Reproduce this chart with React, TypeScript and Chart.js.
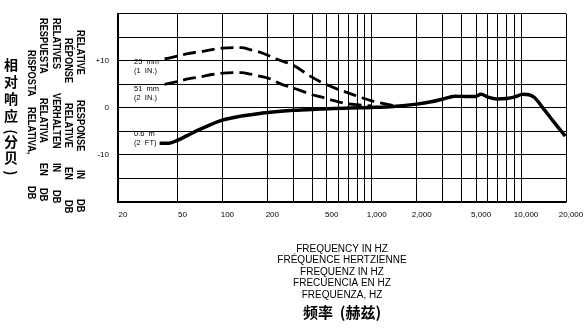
import React, { useEffect, useRef } from 'react';
import { Chart, registerables } from 'chart.js';

Chart.register(...registerables);

// ---- data ----
const freq06 = [38, 44, 50, 58, 67, 80, 100, 130, 160, 200, 300, 450, 700, 1000, 1400, 2000, 2500, 3000, 3600, 4400, 4900, 5400, 6000, 6900, 8000, 9000, 10300, 11300, 12300, 14000, 16500, 19800];
const db06 = [-7.5, -7.5, -6.9, -5.9, -4.9, -3.8, -2.6, -1.8, -1.4, -1.0, -0.5, -0.25, 0, 0.1, 0.3, 0.8, 1.3, 1.9, 2.5, 2.4, 2.4, 2.9, 2.3, 1.9, 2.0, 2.3, 2.9, 2.8, 2.2, 0.0, -2.9, -6.0];

const freq25 = [41, 50, 60, 70, 85, 100, 118, 135, 153, 180, 208, 230, 300, 385, 450, 590, 680, 800, 1000, 1400];
const db25 = [10.4, 11.0, 11.6, 11.9, 12.4, 12.7, 12.8, 12.8, 12.4, 11.8, 11.0, 10.4, 9.0, 6.8, 5.6, 4.0, 3.3, 2.5, 1.5, 0.5];

const freq51 = [41, 50, 60, 71, 85, 100, 118, 135, 153, 180, 208, 250, 300, 400, 450, 550, 680, 850, 1000];
const db51 = [5.0, 5.6, 6.2, 6.6, 7.1, 7.4, 7.5, 7.5, 7.2, 6.7, 6.2, 5.0, 4.2, 2.8, 2.4, 1.6, 0.9, 0.6, 0.4];

const xGridValues = [20, 50, 100, 200, 300, 400, 500, 600, 700, 800, 900, 1000, 2000, 3000, 4000, 5000, 6000, 7000, 8000, 9000, 10000, 20000];
const xLabelValues = [20, 50, 100, 200, 500, 1000, 2000, 5000, 10000, 20000];
const xLabelTexts = ['20', '50', '100', '200', '500', '1,000', '2,000', '5,000', '10,000', '20,000'];
const yLabelValues = [10, 0, -10];
const yLabelTexts = ['+10', '0', '-10'];

const yTitleLines = [
  'RELATIVE RESPONSE IN DB',
  'RÉPONSE RELATIVE EN DB',
  'RELATIVES VERHALTEN IN DB',
  'RESPUESTA RELATIVA EN DB',
  'RISPOSTA RELATIVA, DB',
];
const yTitleZh = ['相', '对', '响', '应', '(', '分', '贝', ')'];
const xTitleLines = [
  'FREQUENCY IN HZ',
  'FRÉQUENCE HERTZIENNE',
  'FREQUENZ IN HZ',
  'FRECUENCIA EN HZ',
  'FREQUENZA, HZ',
];
const xTitleZh = '频率  (赫兹)';
const curveLabels = [
  ['25  mm', '(1  IN.)'],
  ['51  mm', '(2  IN.)'],
  ['0.6  m', '(2  FT)'],
];

// ---- layout (text placement only) ----
const yTitleColX = [80, 68, 56, 43, 31];
const yTitleWordY = [
  [30, 100, 170, 199],
  [38, 103, 167, 200],
  [18, 93, 163, 190],
  [18, 98, 163, 188],
  [50, 107, 186],
];
const yTitleZhY = [65, 82, 99, 116, 132, 142, 158, 173];
const curveLabelPos = [
  [134, 62],
  [134, 89],
  [134, 134],
];

const textPlugin = {
  id: 'extraText',
  afterDraw(chart: any) {
    const ctx = chart.ctx as CanvasRenderingContext2D;
    const area = chart.chartArea;
    ctx.save();
    ctx.fillStyle = '#000';

    // rotated y titles
    ctx.font = 'bold 11px "Liberation Sans", Arial, sans-serif';
    ctx.textBaseline = 'middle';
    ctx.textAlign = 'left';
    yTitleLines.forEach((line, ci) => {
      const words = line.split(' ');
      words.forEach((w, wi) => {
        ctx.save();
        ctx.translate(yTitleColX[ci], yTitleWordY[ci][wi]);
        ctx.rotate(Math.PI / 2);
        ctx.scale(0.84, 1);
        ctx.fillText(w, 0, 0);
        ctx.restore();
      });
    });

    // chinese vertical title
    ctx.font = 'bold 14px "Noto Sans CJK SC", sans-serif';
    ctx.textAlign = 'center';
    ctx.textBaseline = 'middle';
    yTitleZh.forEach((ch, i) => {
      ctx.save();
      ctx.translate(11, yTitleZhY[i]);
      if (ch === '(' || ch === ')') ctx.rotate(Math.PI / 2);
      ctx.fillText(ch, 0, 0);
      ctx.restore();
    });

    // x titles
    const cx = (area.left + area.right) / 2;
    ctx.font = '10px "Liberation Sans", Arial, sans-serif';
    ctx.textAlign = 'center';
    xTitleLines.forEach((line, i) => {
      ctx.fillText(line, cx, 249 + i * 11.5);
    });
    ctx.font = 'bold 15px "Noto Sans CJK SC", sans-serif';
    ctx.fillText(xTitleZh, cx, 312);

    // curve labels
    ctx.font = '7.5px "Liberation Sans", Arial, sans-serif';
    ctx.textAlign = 'left';
    curveLabels.forEach((lines, i) => {
      lines.forEach((t, j) => {
        ctx.fillText(t, curveLabelPos[i][0], curveLabelPos[i][1] + j * 9);
      });
    });
    ctx.restore();
  },
};

function toXY(xs: number[], ys: number[]) {
  return xs.map((x, i) => ({ x, y: ys[i] }));
}

export default function App() {
  const ref = useRef<HTMLCanvasElement | null>(null);
  useEffect(() => {
    if (!ref.current) return;
    const chart = new Chart(ref.current, {
      type: 'line',
      data: {
        datasets: [
          {
            label: '0.6 m',
            data: toXY(freq06, db06),
            borderColor: '#000',
            borderWidth: 3.5,
            pointRadius: 0,
            fill: false,
            cubicInterpolationMode: 'monotone',
          },
          {
            label: '25 mm',
            data: toXY(freq25, db25),
            borderColor: '#000',
            borderWidth: 2.8,
            borderDash: [13, 6],
            pointRadius: 0,
            fill: false,
            cubicInterpolationMode: 'monotone',
          },
          {
            label: '51 mm',
            data: toXY(freq51, db51),
            borderColor: '#000',
            borderWidth: 2.8,
            borderDash: [13, 6],
            pointRadius: 0,
            fill: false,
            cubicInterpolationMode: 'monotone',
          },
        ],
      },
      options: {
        responsive: false,
        animation: false,
        devicePixelRatio: 1,
        layout: { padding: { left: 78, right: 22, top: 7, bottom: 98 } },
        plugins: { legend: { display: false }, tooltip: { enabled: false } },
        scales: {
          x: {
            type: 'logarithmic',
            min: 20,
            max: 20000,
            afterFit: (s: any) => { s.height = 30; },
            afterBuildTicks: (s: any) => { s.ticks = xGridValues.map((v) => ({ value: v })); },
            grid: { color: '#000', lineWidth: 1, drawTicks: false },
            border: { color: '#000', width: 1.5 },
            ticks: {
              autoSkip: false,
              maxRotation: 0,
              padding: 8,
              labelOffset: 5,
              color: '#000',
              font: { size: 8, family: '"Liberation Sans", Arial, sans-serif' },
              callback: (v: any) => {
                const i = xLabelValues.indexOf(Number(v));
                return i >= 0 ? xLabelTexts[i] : '';
              },
            },
          },
          y: {
            type: 'linear',
            min: -20,
            max: 20,
            afterFit: (s: any) => { s.width = 40; },
            grid: { color: '#000', lineWidth: 1, drawTicks: false },
            border: { color: '#000', width: 1.5 },
            ticks: {
              stepSize: 5,
              padding: 9,
              color: '#000',
              font: { size: 8, family: '"Liberation Sans", Arial, sans-serif' },
              callback: (v: any) => {
                const i = yLabelValues.indexOf(Number(v));
                return i >= 0 ? yLabelTexts[i] : '';
              },
            },
          },
        },
      },
      plugins: [textPlugin],
    } as any);
    return () => chart.destroy();
  }, []);
  return (
    <div style={{ position: 'fixed', left: 0, top: 0, width: 588, height: 330, background: '#fff' }}>
      <canvas ref={ref} width={588} height={330} />
    </div>
  );
}
